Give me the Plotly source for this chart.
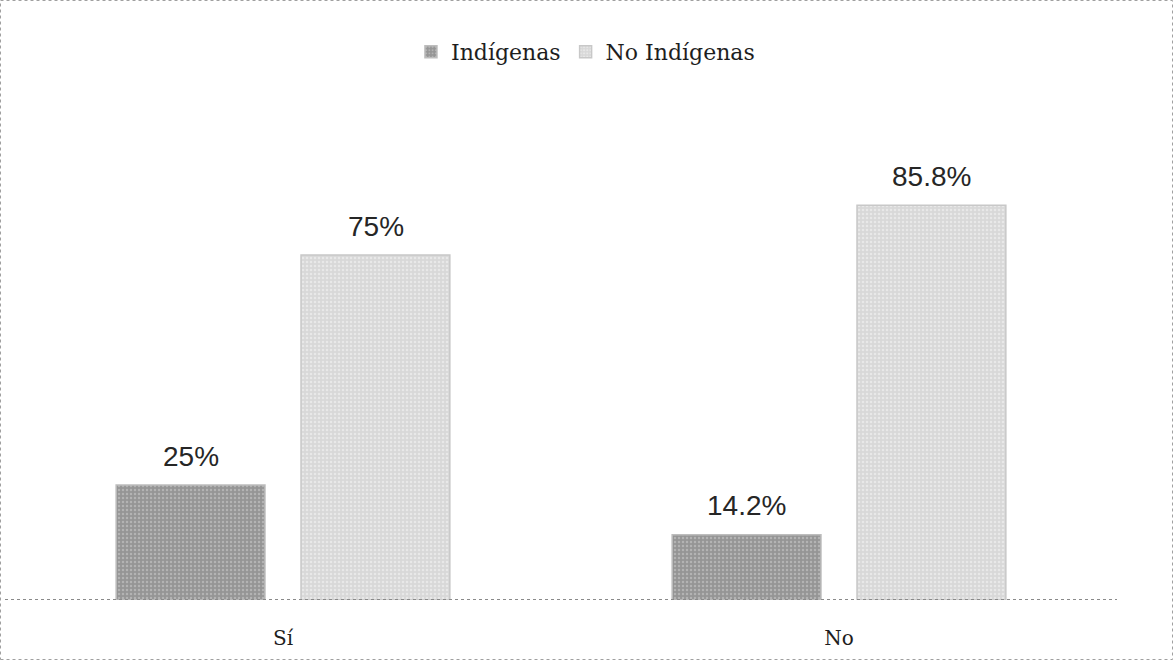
import plotly.graph_objects as go

# Response categories and percentages per group
categories = ["Sí", "No"]
indigenas = [25, 14.2]
no_indigenas = [75, 85.8]
labels_indigenas = ["25%", "14.2%"]
labels_no_indigenas = ["75%", "85.8%"]

W, H = 1173, 660
L, R, T, B = 5, 56, 140, 60
pw, ph = W - L - R, H - T - B

fig = go.Figure()

fig.add_trace(go.Bar(
    name="Indígenas", x=categories, y=indigenas,
    marker=dict(color="#a3a3a3",
                line=dict(color="#bdbdbd", width=1.5),
                pattern=dict(shape=".", fgcolor="#cfcfcf", bgcolor="#959595",
                             size=4, solidity=0.3)),
))
fig.add_trace(go.Bar(
    name="No Indígenas", x=categories, y=no_indigenas,
    marker=dict(color="#e0e0e0",
                line=dict(color="#c8c8c8", width=1.5),
                pattern=dict(shape=".", fgcolor="#f7f7f7", bgcolor="#d8d8d8",
                             size=4, solidity=0.3)),
))

# Value labels above each bar
for vals, labs, off in [(indigenas, labels_indigenas, -1), (no_indigenas, labels_no_indigenas, 1)]:
    for cat_i, (v, lab) in enumerate(zip(vals, labs)):
        fig.add_annotation(
            x=cat_i, xref="x", y=v, yref="y", text=lab, showarrow=False,
            xshift=off * 92.5, yshift=29,
            font=dict(family="Liberation Sans, Arial, sans-serif", size=28, color="#262626"),
        )

# Baseline and outer frame
fig.add_shape(type="line", xref="paper", yref="y", x0=0, x1=1, y0=0, y1=0,
              line=dict(color="#8a8a8a", width=2, dash="dot"))
fig.add_shape(type="rect", xref="paper", yref="paper",
              x0=(0.5 - L) / pw, x1=(W - 0.5 - L) / pw,
              y0=-(B - 0.5) / ph, y1=(ph + T - 0.5) / ph,
              line=dict(color="#a0a0a0", width=1, dash="dot"))

fig.update_layout(
    width=W, height=H,
    margin=dict(l=L, r=R, t=T, b=B),
    paper_bgcolor="white", plot_bgcolor="white",
    barmode="group", bargap=0.335, bargroupgap=0.195,
    showlegend=True,
    legend=dict(orientation="h", x=0.522, xanchor="center", y=(ph + T - 52) / ph, yanchor="middle",
                font=dict(family="DejaVu Serif, serif", size=22, color="#1e1e1e"),
                itemwidth=30, traceorder="normal"),
    xaxis=dict(showgrid=False, showline=False, ticks="", zeroline=False,
               ticklabelstandoff=24,
               tickfont=dict(family="DejaVu Serif, serif", size=20, color="#1e1e1e")),
    yaxis=dict(range=[0, 100], visible=False, showgrid=False, zeroline=False),
)

fig.write_html("out.html")
